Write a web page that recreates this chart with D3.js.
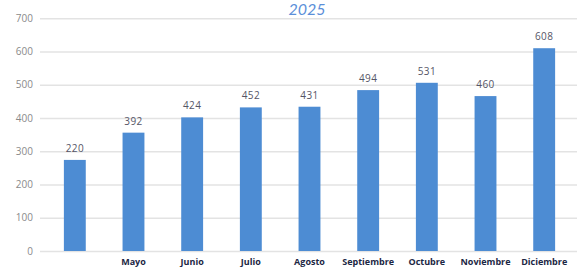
<!DOCTYPE html>
<html>
<head>
<meta charset="utf-8">
<script src="https://cdn.jsdelivr.net/npm/d3@7"></script>
<style>
  body { margin: 0; background: #fff; }
  svg { display: block; }
</style>
</head>
<body>
<div id="chart"></div>
<script>
// months shown (the first bar has no visible label in the picture)
let months = ['Abril', 'Mayo', 'Junio', 'Julio', 'Agosto', 'Septiembre', 'Octubre', 'Noviembre', 'Diciembre']
let monthLabels = ['', 'Mayo', 'Junio', 'Julio', 'Agosto', 'Septiembre', 'Octubre', 'Noviembre', 'Diciembre']
// bar heights as drawn
let barValues = [274, 356, 402, 432, 434, 484, 506, 466, 610]
// value labels printed over the bars
let valueLabels = ['220', '392', '424', '452', '431', '494', '531', '460', '608']
let yTicks = [0, 100, 200, 300, 400, 500, 600, 700]
let title = '2025'

let width = 577
let height = 267
let margin = { top: 18, left: 40, right: 0, bottom: 16 }

let svg = d3
  .select('#chart')
  .append('svg')
  .attr('width', width)
  .attr('height', height)

let x = d3
  .scaleBand()
  .domain(months)
  .range([margin.left + 1, width + 1])
  .paddingInner(0.627)
  .paddingOuter(0.39)

let y = d3
  .scaleLinear()
  .domain([0, 700])
  .range([251, 18.3])

// gridlines + y labels
let yAxis = svg
  .append('g')
  .attr('transform', 'translate(' + margin.left + ',0)')
  .call(
    d3.axisLeft(y)
      .tickValues(yTicks)
      .tickSize(-(width - margin.left))
      .tickPadding(7)
  )
yAxis.select('.domain').remove()
yAxis.selectAll('.tick line').attr('stroke', '#e3e3e3').attr('stroke-width', 1.5)
yAxis
  .selectAll('.tick text')
  .attr('fill', '#8a8a8a')
  .attr('font-family', 'Open Sans, sans-serif')
  .attr('font-size', 10)

// title
svg
  .append('text')
  .attr('x', 307)
  .attr('y', 15)
  .attr('text-anchor', 'middle')
  .attr('font-family', 'Lato, sans-serif')
  .attr('font-style', 'italic')
  .attr('font-size', 16)
  .attr('fill', '#5b8fd9')
  .text(title)

let data = months.map((m, i) => ({ month: m, value: barValues[i], label: valueLabels[i] }))

svg
  .append('g')
  .selectAll('.bar')
  .data(data)
  .enter()
  .append('rect')
  .attr('class', 'bar')
  .attr('x', d => x(d.month))
  .attr('width', x.bandwidth())
  .attr('y', d => y(d.value))
  .attr('height', d => y(0) - y(d.value))
  .attr('fill', '#4d8cd3')

svg
  .append('g')
  .selectAll('.value-label')
  .data(data)
  .enter()
  .append('text')
  .attr('class', 'value-label')
  .attr('x', d => x(d.month) + x.bandwidth() / 2)
  .attr('y', d => y(d.value) - 8)
  .attr('text-anchor', 'middle')
  .attr('font-family', 'Open Sans, sans-serif')
  .attr('font-size', 10)
  .attr('letter-spacing', 0.4)
  .attr('fill', '#555566')
  .text(d => d.label)

// month labels
let xAxis = svg
  .append('g')
  .attr('transform', 'translate(0,' + y(0) + ')')
  .call(
    d3.axisBottom(x)
      .tickSize(0)
      .tickPadding(8)
      .tickFormat((d, i) => monthLabels[i])
  )
xAxis.select('.domain').remove()
xAxis
  .selectAll('.tick text')
  .attr('fill', '#1c2744')
  .attr('font-family', 'Open Sans, sans-serif')
  .attr('font-weight', 'bold')
  .attr('font-size', 9)
</script>
</body>
</html>
